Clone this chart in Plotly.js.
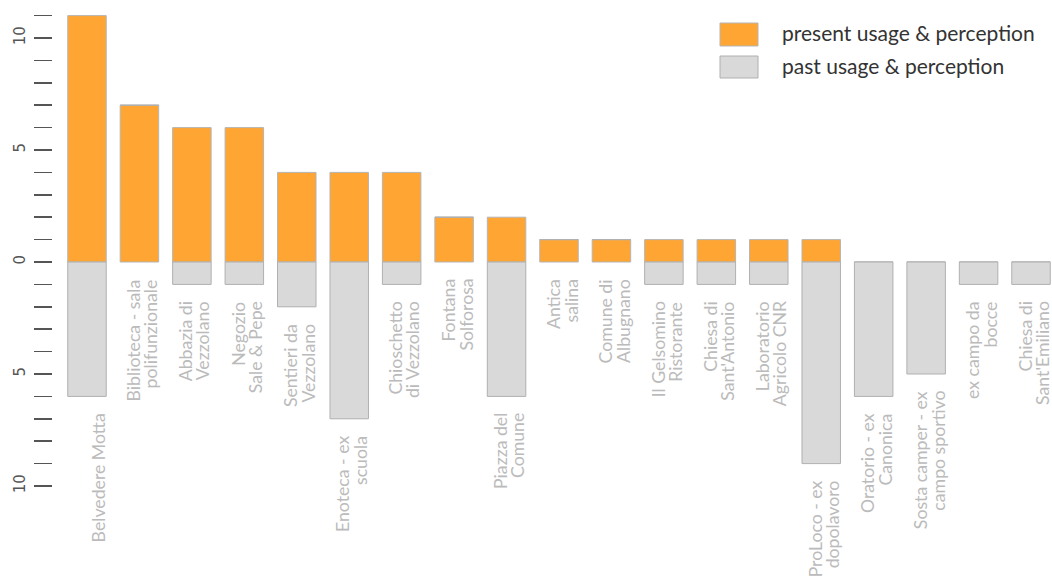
<!DOCTYPE html>
<html>
<head>
<meta charset="utf-8">
<script src="https://cdn.plot.ly/plotly-3.0.1.min.js"></script>
<style>html,body{margin:0;padding:0;background:#fff;}#chart{width:1052px;height:578px;}</style>
</head>
<body>
<div id="chart"></div>
<script>
var categories = ["Belvedere Motta","Biblioteca - sala<br>polifunzionale","Abbazia di<br>Vezzolano","Negozio<br>Sale & Pepe","Sentieri da<br>Vezzolano","Enoteca - ex<br>scuola","Chioschetto<br>di Vezzolano","Fontana<br>Solforosa","Piazza del<br>Comune","Antica<br>salina","Comune di<br>Albugnano","Il Gelsomino<br>Ristorante","Chiesa di<br>Sant'Antonio","Laboratorio<br>Agricolo CNR","ProLoco - ex<br>dopolavoro","Oratorio - ex<br>Canonica","Sosta camper - ex<br>campo sportivo","ex campo da<br>bocce","Chiesa di<br>Sant'Emiliano"];
var presentValues = [11,7,6,6,4,4,4,2,2,1,1,1,1,1,1,0,0,0,0];
var pastValues = [6,0,1,1,2,7,1,0,6,0,0,1,1,1,9,6,5,1,1];
var tickValues = [-10,-9,-8,-7,-6,-5,-4,-3,-2,-1,0,1,2,3,4,5,6,7,8,9,10,11];
var tickLabels = ["10","","","","","5","","","","","0","","","","","5","","","","","10",""];
var legendLabels = ["present usage & perception","past usage & perception"];

var W = 1052, H = 578, ML = 53, MT = 5;
var PW = W - ML, PH = H - MT;
function px(x){ return (x - ML) / PW; }
function py(y){ return 1 - (y - MT) / PH; }

var idx = categories.map(function(_, i){ return i; });
var orange = "#FFA533", grey = "#D9D9D9";

var traces = [
  {type:"bar", x: idx, y: presentValues, marker:{color:orange, line:{color:"#B5B5B5", width:1}}, hoverinfo:"skip", showlegend:false},
  {type:"bar", x: idx, y: pastValues.map(function(v){ return -v; }), marker:{color:grey, line:{color:"#B0B0B0", width:1}}, hoverinfo:"skip", showlegend:false}
];

var annotations = [];
var LINE = 17.5, LAST = 11.5;
categories.forEach(function(c, i){
  var lines = c.split("<br>");
  var n = lines.length;
  lines.forEach(function(t, k){
    annotations.push({x: i, y: -pastValues[i], xref:"x", yref:"y", text: t, showarrow:false,
      textangle:-90, xanchor:"center", yanchor:"top", xshift: LAST - (n - 1 - k) * LINE, yshift:-16,
      borderpad:0, font:{family:"Lato", size:17.7, color:"#BBBBBB"}});
  });
});
annotations.push({xref:"paper", yref:"paper", x:px(780), y:py(33), xanchor:"left", yanchor:"middle", text:legendLabels[0], showarrow:false, font:{family:"Lato", size:21, color:"#333333"}});
annotations.push({xref:"paper", yref:"paper", x:px(780), y:py(65), xanchor:"left", yanchor:"middle", text:legendLabels[1], showarrow:false, font:{family:"Lato", size:21, color:"#333333"}});

var shapes = [
  {type:"rect", xref:"paper", yref:"paper", x0:px(720), x1:px(758), y0:py(23), y1:py(46), fillcolor:orange, line:{color:"#B5B5B5", width:1}},
  {type:"rect", xref:"paper", yref:"paper", x0:px(720), x1:px(758), y0:py(56), y1:py(78), fillcolor:grey, line:{color:"#B0B0B0", width:1}}
];

var layout = {
  width: W, height: H,
  margin: {l: ML, r: 0, t: MT, b: 0, pad: 0},
  paper_bgcolor: "#fff", plot_bgcolor: "#fff",
  barmode: "relative", bargap: 0.266,
  showlegend: false,
  xaxis: {range: [-0.648, 18.4], showticklabels:false, ticks:"", showgrid:false, zeroline:false, showline:false, fixedrange:true},
  yaxis: {range: [-14.107, 11.473], tickmode:"array", tickvals: tickValues, ticktext: tickLabels,
    ticks:"outside", ticklen:18, tickwidth:1.5, tickcolor:"#555555", tickangle:-90, ticklabelstandoff:3,
    tickfont:{family:"DejaVu Sans", size:15, color:"#555555"},
    showgrid:false, zeroline:false, showline:false, fixedrange:true},
  annotations: annotations,
  shapes: shapes
};
Plotly.newPlot("chart", traces, layout, {displayModeBar:false, staticPlot:true});
</script>
</body>
</html>
